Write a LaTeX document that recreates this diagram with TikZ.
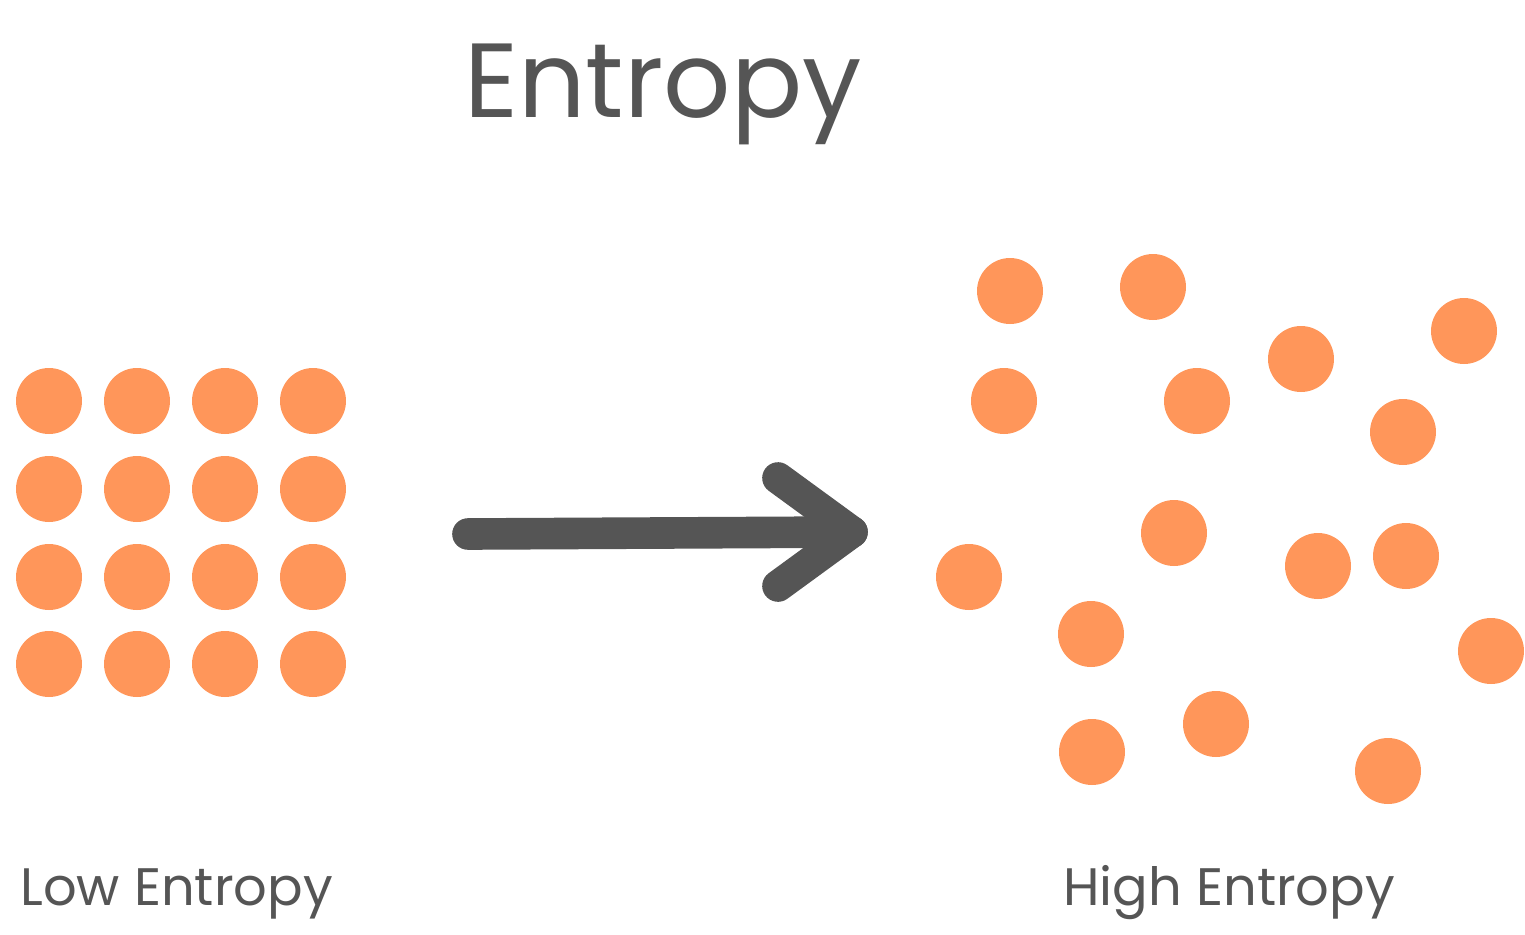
\documentclass[tikz,border=0pt]{standalone}
\usepackage{fontspec}
\setmainfont{Poppins}
\definecolor{dot}{HTML}{FF965A}
\definecolor{ink}{HTML}{555555}
\begin{document}
\begin{tikzpicture}[x=0.02cm,y=-0.02cm,
  ball/.style={circle,fill=dot,minimum size=1.32cm,inner sep=0pt},
  lbl/.style={text=ink,font=\fontsize{30}{30}\selectfont,anchor=base west,inner sep=0pt},
  arr/.style={draw=ink,line width=18pt,line cap=round,line join=round}]
\useasboundingbox (0,0) rectangle (1525,934);
\node[text=ink,font=\fontsize{60}{60}\selectfont,anchor=base,inner sep=0pt] (title) at (663,117) {Entropy};
\foreach \i/\x in {1/49,2/137,3/225,4/313}
  \foreach \j/\y in {1/401,2/489,3/577,4/664}
    \node[ball] (g\i\j) at (\x,\y) {};
\foreach \x/\y [count=\k] in {1010/291,1153/287,1464/331,1301/359,1004/401,1197/401,1403/432,1174/533,1318/566,1406/556,969/577,1091/634,1491/651,1216/724,1092/752,1388/771}
  \node[ball] (s\k) at (\x,\y) {};
\coordinate (a0) at (468,534);
\coordinate (a1) at (852,532);
\coordinate (h1) at (778,478);
\coordinate (h2) at (778,586);
\draw[arr] (a0) -- (a1);
\draw[arr] (h1) -- (a1) -- (h2);
\node[lbl] (low) at (20,905) {Low Entropy};
\node[lbl] (high) at (1063,905) {High Entropy};
\end{tikzpicture}
\end{document}
